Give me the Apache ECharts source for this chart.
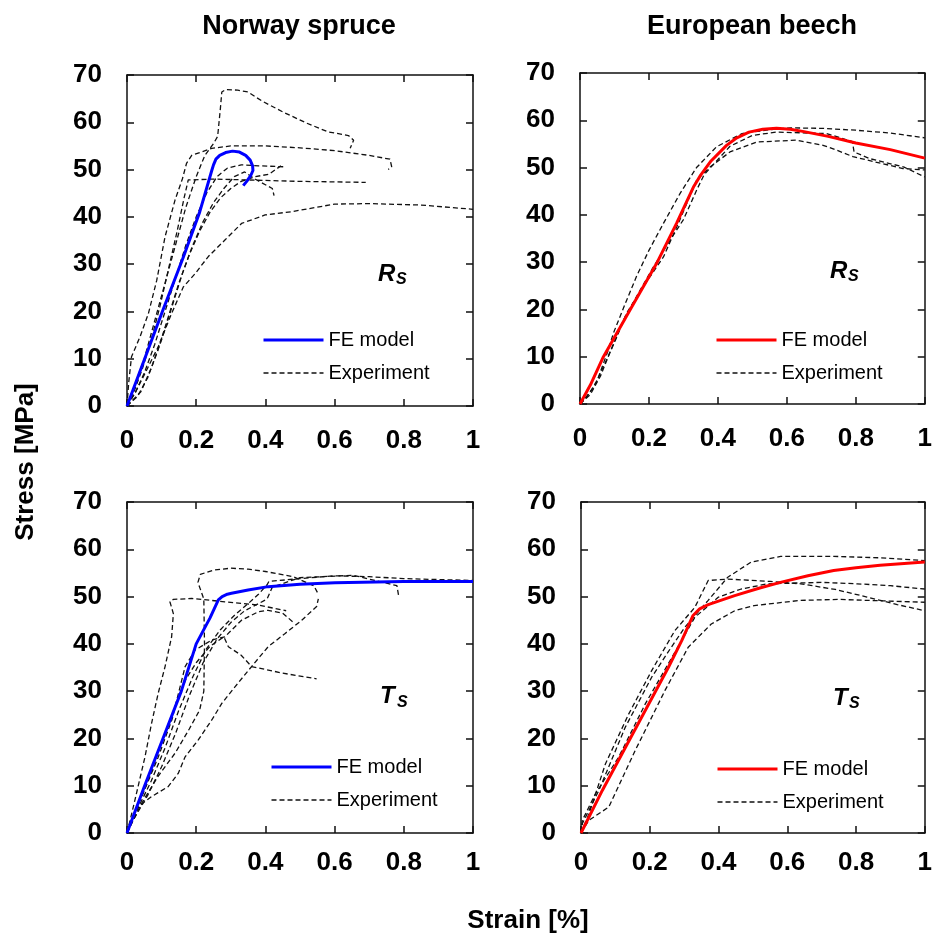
<!DOCTYPE html>
<html>
<head>
<meta charset="utf-8">
<script src="https://cdn.jsdelivr.net/npm/echarts@6/dist/echarts.min.js"></script>
<style>
html,body{margin:0;padding:0;background:#fff;}
#chart{width:935px;height:936px;}
</style>
</head>
<body>
<div id="chart"></div>
<script>
// ---------- tick values ----------
const strainTicks = [0, 0.2, 0.4, 0.6, 0.8, 1];
const stressTicks = [0, 10, 20, 30, 40, 50, 60, 70];
const panelTitles = ['Norway spruce', 'European beech'];

// ---------- Norway spruce, R_S  ([strain %, stress MPa]) ----------
const spruceRS_FE = [[0,0],[0.105,20.5],[0.163,31.5],[0.21,41],[0.245,49.8],[0.25,51],[0.257,52.2],[0.268,53],[0.285,53.6],[0.305,53.9],[0.325,53.7],[0.343,53],[0.356,52],[0.363,50.8],[0.364,49.8],[0.358,48.8],[0.347,47.6],[0.336,46.6]];
const spruceRS_A = [[0,0],[0.02,4],[0.05,10],[0.08,18],[0.11,26],[0.14,34],[0.17,42],[0.2,48.5],[0.225,53],[0.25,55.5],[0.262,57],[0.266,60],[0.27,63],[0.274,66.4],[0.285,66.9],[0.32,66.8],[0.35,66.4],[0.39,64.5],[0.45,62.2],[0.52,59.8],[0.58,58],[0.64,57.2],[0.655,56.2],[0.645,54.5]];
const spruceRS_B = [[0,0],[0.005,5],[0.013,10.4],[0.038,14.7],[0.062,19.6],[0.086,26.6],[0.11,35.8],[0.139,43.6],[0.16,48],[0.172,51.3],[0.187,53],[0.245,54.5],[0.3,55],[0.4,55],[0.5,54.6],[0.6,54],[0.7,53],[0.76,52.2],[0.765,50.6],[0.755,50]];
const spruceRS_C = [[0,0],[0.023,2.7],[0.052,6.9],[0.09,12.5],[0.129,19.6],[0.163,25.2],[0.197,28],[0.235,31.6],[0.283,35.1],[0.331,38.6],[0.399,40.4],[0.476,41.1],[0.6,42.7],[0.7,42.8],[0.85,42.5],[1.0,41.6]];
const spruceRS_D = [[0,0],[0.02,3],[0.045,8],[0.07,14],[0.095,21],[0.12,29],[0.145,37],[0.165,44],[0.177,47.8],[0.25,48],[0.35,47.8],[0.5,47.5],[0.69,47.3]];
const spruceRS_E = [[0,0],[0.025,3],[0.05,7],[0.08,13],[0.11,20],[0.14,27],[0.17,34],[0.2,40],[0.23,45],[0.26,48.5],[0.29,50.3],[0.33,51],[0.38,50.8],[0.452,50.6]];
const spruceRS_F = [[0,0],[0.03,2],[0.06,6],[0.09,12],[0.12,19],[0.15,26],[0.18,32],[0.21,37],[0.24,41],[0.27,44],[0.3,46],[0.33,47.5],[0.37,48.5],[0.41,49],[0.445,50.8]];
const spruceRS_G = [[0,0],[0.04,3],[0.07,8],[0.1,14],[0.13,21],[0.16,28],[0.19,34],[0.22,39],[0.25,43],[0.28,46],[0.31,48.5],[0.34,49.5],[0.37,48],[0.42,46],[0.425,44.5]];

// ---------- Norway spruce, T_S ----------
const spruceTS_FE = [[0,0],[0.051,10],[0.104,20],[0.157,30],[0.2,40],[0.24,45.5],[0.264,49.3],[0.275,50],[0.29,50.5],[0.302,50.7],[0.35,51.4],[0.408,52.1],[0.5,52.6],[0.601,52.9],[0.8,53.2],[1.0,53.2]];
const spruceTS_1 = [[0,0],[0.01,3],[0.023,7],[0.052,16.1],[0.071,23.2],[0.09,29.5],[0.11,35.2],[0.129,41.5],[0.134,46.4],[0.124,48.9],[0.134,49.4],[0.187,49.6],[0.283,48.9],[0.38,48.2],[0.46,47]];
const spruceTS_2 = [[0,0],[0.04,6],[0.09,12],[0.14,17],[0.18,22],[0.21,26],[0.222,30],[0.224,40],[0.222,49.5],[0.205,53],[0.212,54.7],[0.25,55.6],[0.3,56],[0.35,55.8],[0.4,55.3],[0.48,54.2],[0.54,52.3],[0.553,50.5]];
const spruceTS_3 = [[0,0],[0.033,5.6],[0.071,7.7],[0.119,9.8],[0.148,12.6],[0.168,16.1],[0.206,19.7],[0.245,23.9],[0.274,27.4],[0.312,30.9],[0.36,35.2],[0.408,39.4],[0.457,42.2],[0.505,45],[0.548,47.9],[0.553,49.5]];
const spruceTS_4 = [[0,0],[0.03,5],[0.07,11],[0.11,18],[0.15,26],[0.19,33],[0.23,39],[0.27,43],[0.31,46],[0.35,48.5],[0.38,50.5],[0.405,52.5],[0.41,53.2],[0.5,53.8],[0.6,54.4],[0.7,54.2],[0.8,53.8],[0.9,53.6],[1.0,53.4]];
const spruceTS_5 = [[0,0],[0.02,4],[0.05,9],[0.09,16],[0.13,24],[0.168,35.2],[0.197,38.7],[0.245,40.8],[0.283,41.5],[0.331,45],[0.38,46.8],[0.408,47.1],[0.45,46.5],[0.48,44.6]];
const spruceTS_6 = [[0,0],[0.02,4],[0.05,9],[0.08,15],[0.11,21],[0.14,27],[0.17,32.5],[0.2,36],[0.24,39.5],[0.28,41.5],[0.293,39.4],[0.33,37.6],[0.36,35.2],[0.38,34.9],[0.45,33.8],[0.548,32.6]];
const spruceTS_7 = [[0,0],[0.02,3],[0.06,8],[0.1,14],[0.14,21],[0.18,29],[0.22,36],[0.26,41],[0.3,44.5],[0.34,47],[0.38,48.5],[0.405,49.5],[0.42,52],[0.5,54],[0.654,54.5],[0.78,52.3],[0.785,50.2]];

// ---------- European beech, R_S ----------
const beechRS_FE = [[0,0],[0.03,4],[0.068,10],[0.145,19.9],[0.222,29.7],[0.28,38.2],[0.33,46],[0.35,48.4],[0.38,51.4],[0.425,54.7],[0.455,56.3],[0.49,57.5],[0.53,58.1],[0.57,58.3],[0.61,58.1],[0.65,57.6],[0.72,56.6],[0.8,55.2],[0.9,53.8],[1.0,52]];
const beechRS_1 = [[0,0],[0.02,1.5],[0.05,5],[0.08,11],[0.097,15],[0.13,21],[0.164,27],[0.2,32.5],[0.242,38.2],[0.29,44.5],[0.338,50],[0.396,54.4],[0.47,57.2],[0.55,58],[0.61,58.4],[0.7,58.3],[0.8,57.9],[0.9,57.3],[1.0,56.3]];
const beechRS_2 = [[0,0],[0.03,2],[0.06,6],[0.09,11.5],[0.126,17.7],[0.17,23.5],[0.213,29],[0.26,34.5],[0.3,39],[0.34,45.5],[0.36,48.5],[0.435,54.5],[0.5,56.8],[0.57,57.5],[0.715,57.2],[0.79,55.5],[0.795,53.3],[0.84,51.9],[0.94,50.1],[1.0,48]];
const beechRS_3 = [[0,0],[0.01,0.8],[0.04,3.5],[0.068,7.9],[0.1,13],[0.135,19.2],[0.19,25.5],[0.242,31.1],[0.29,39],[0.338,47.3],[0.377,50.1],[0.435,53.3],[0.512,55.4],[0.628,55.8],[0.705,54.7],[0.744,53.7],[0.792,52.3],[0.937,49.8],[1.0,49.5]];

// ---------- European beech, T_S ----------
const beechTS_FE = [[0,0],[0.062,9],[0.158,22],[0.254,35],[0.293,40.7],[0.326,46],[0.345,47.4],[0.37,48.3],[0.447,50.2],[0.52,51.8],[0.58,53],[0.66,54.4],[0.735,55.5],[0.8,56.1],[0.87,56.6],[0.94,57],[1.0,57.3]];
const beechTS_1 = [[0,0],[0.004,2],[0.052,9],[0.129,22.4],[0.206,33],[0.26,39],[0.302,43.5],[0.37,49.2],[0.427,54.1],[0.495,57.3],[0.581,58.5],[0.735,58.5],[0.87,58.2],[1.0,57.6]];
const beechTS_2 = [[0,0],[0.023,4],[0.071,14.6],[0.139,25.2],[0.206,34.4],[0.273,42.8],[0.331,47.7],[0.37,53.4],[0.427,53.7],[0.55,53.2],[0.639,52.7],[0.74,51.5],[0.832,49.9],[0.92,48.3],[1.0,47]];
const beechTS_3 = [[0,0],[0.004,2.7],[0.042,8.3],[0.11,16.1],[0.187,27.3],[0.254,35.8],[0.331,45.6],[0.4,49.9],[0.466,51.6],[0.543,52.7],[0.7,53],[0.803,52.7],[0.9,52.3],[1.0,51.6]];
const beechTS_4 = [[0,0],[0.023,2.7],[0.081,5.5],[0.158,17.5],[0.244,30.1],[0.312,39.3],[0.379,44.2],[0.447,47],[0.504,48.1],[0.639,49.2],[0.75,49.4],[0.832,49.2],[1.0,48.8]];

// ---------- layout ----------
const FONT = "'Liberation Sans', Arial, sans-serif";
const panels = [
  { grid: {left:127, top:75, width:346, height:331}, fe: spruceRS_FE, color:'#0000ff', xMargin:22,
    exp: [spruceRS_A, spruceRS_B, spruceRS_C, spruceRS_D, spruceRS_E, spruceRS_F, spruceRS_G],
    legend: {left:262, top:330}, lab: {main:'R', x:378, y:274, sx:396, sy:280} },
  { grid: {left:580, top:73, width:345, height:331}, fe: beechRS_FE, color:'#ff0000', xMargin:22,
    exp: [beechRS_1, beechRS_2, beechRS_3],
    legend: {left:715, top:330}, lab: {main:'R', x:830, y:271, sx:848, sy:277} },
  { grid: {left:127, top:502, width:346, height:331}, fe: spruceTS_FE, color:'#0000ff', xMargin:17,
    exp: [spruceTS_1, spruceTS_2, spruceTS_3, spruceTS_4, spruceTS_5, spruceTS_6, spruceTS_7],
    legend: {left:270, top:757}, lab: {main:'T', x:380, y:696, sx:397, sy:703} },
  { grid: {left:581, top:502, width:346, height:331}, fe: beechTS_FE, color:'#ff0000', xMargin:17,
    exp: [beechTS_1, beechTS_2, beechTS_3, beechTS_4],
    legend: {left:716, top:759}, lab: {main:'T', x:833, y:698, sx:849, sy:704} }
];

const axisLineStyle = {color:'#111', width:1.5};
const expLine = {color:'#111', width:1.3, type:[5,3]};
const grids = [], xAxes = [], yAxes = [], series = [], legends = [], graphics = [];

panels.forEach((p, i) => {
  grids.push(Object.assign({containLabel:false}, p.grid));
  xAxes.push({gridIndex:i, type:'value', position:'bottom', min:strainTicks[0], max:strainTicks[strainTicks.length-1], interval:0.2,
    axisLine:{show:true, onZero:false, lineStyle:axisLineStyle}, axisTick:{show:true, inside:true, length:7, lineStyle:axisLineStyle},
    splitLine:{show:false},
    axisLabel:{show:true, margin:p.xMargin, fontSize:26, fontWeight:'bold', fontFamily:FONT, color:'#000',
      formatter: v => String(+(+v).toFixed(1))}});
  xAxes.push({gridIndex:i, type:'value', position:'top', min:0, max:1, interval:0.2,
    axisLine:{show:true, onZero:false, lineStyle:axisLineStyle}, axisTick:{show:true, inside:true, length:7, lineStyle:axisLineStyle},
    splitLine:{show:false}, axisLabel:{show:false}});
  yAxes.push({gridIndex:i, type:'value', position:'left', min:stressTicks[0], max:stressTicks[stressTicks.length-1], interval:10,
    axisLine:{show:true, onZero:false, lineStyle:axisLineStyle}, axisTick:{show:true, inside:true, length:7, lineStyle:axisLineStyle},
    splitLine:{show:false},
    axisLabel:{show:true, margin:25, fontSize:26, fontWeight:'bold', fontFamily:FONT, color:'#000'}});
  yAxes.push({gridIndex:i, type:'value', position:'right', min:0, max:70, interval:10,
    axisLine:{show:true, onZero:false, lineStyle:axisLineStyle}, axisTick:{show:true, inside:true, length:7, lineStyle:axisLineStyle},
    splitLine:{show:false}, axisLabel:{show:false}});

  const feName = 'FE model|' + i, expName = 'Experiment|' + i;
  p.exp.forEach(d => {
    series.push({type:'line', name:expName, xAxisIndex:2*i, yAxisIndex:2*i, data:d, symbol:'none', smooth:false,
      clip:true, z:2, lineStyle:expLine, itemStyle:{color:'#111'}});
  });
  series.push({type:'line', name:feName, xAxisIndex:2*i, yAxisIndex:2*i, data:p.fe, symbol:'none', smooth:false,
    clip:true, z:5, lineStyle:{color:p.color, width:3, join:'round'}, itemStyle:{color:p.color}});

  legends.push({show:true, orient:'vertical', left:p.legend.left, top:p.legend.top, padding:0,
    itemWidth:60, itemHeight:14, itemGap:13, selectedMode:false,
    data:[
      {name:feName, lineStyle:{color:p.color, width:3, type:'solid'}},
      {name:expName, lineStyle:{color:'#111', width:1.3, type:[5,3]}}
    ],
    formatter: n => n.split('|')[0],
    itemStyle:{opacity:0},
    textStyle:{fontSize:20, fontFamily:FONT, color:'#000'}});

  graphics.push({type:'text', x:p.lab.x, y:p.lab.y,
    style:{text:p.lab.main, fontSize:24, fontWeight:'bold', fontStyle:'italic', fontFamily:FONT, fill:'#000',
      textAlign:'left', textVerticalAlign:'middle'}});
  graphics.push({type:'text', x:p.lab.sx, y:p.lab.sy,
    style:{text:'S', fontSize:16, fontWeight:'bold', fontStyle:'italic', fontFamily:FONT, fill:'#000',
      textAlign:'left', textVerticalAlign:'middle'}});
});

graphics.push({type:'text', x:299, y:27, style:{text:panelTitles[0], fontSize:27, fontWeight:'bold', fontFamily:FONT, fill:'#000', textAlign:'center', textVerticalAlign:'middle'}});
graphics.push({type:'text', x:752, y:27, style:{text:panelTitles[1], fontSize:27, fontWeight:'bold', fontFamily:FONT, fill:'#000', textAlign:'center', textVerticalAlign:'middle'}});
graphics.push({type:'text', x:26, y:462, rotation:Math.PI/2, style:{text:'Stress [MPa]', fontSize:26, fontWeight:'bold', fontFamily:FONT, fill:'#000', textAlign:'center', textVerticalAlign:'middle'}});
graphics.push({type:'text', x:528, y:921, style:{text:'Strain [%]', fontSize:26, fontWeight:'bold', fontFamily:FONT, fill:'#000', textAlign:'center', textVerticalAlign:'middle'}});

const chart = echarts.init(document.getElementById('chart'), null, {renderer:'canvas'});
chart.setOption({
  animation:false,
  backgroundColor:'#fff',
  grid:grids, xAxis:xAxes, yAxis:yAxes, series:series, legend:legends, graphic:graphics
});
</script>
</body>
</html>
